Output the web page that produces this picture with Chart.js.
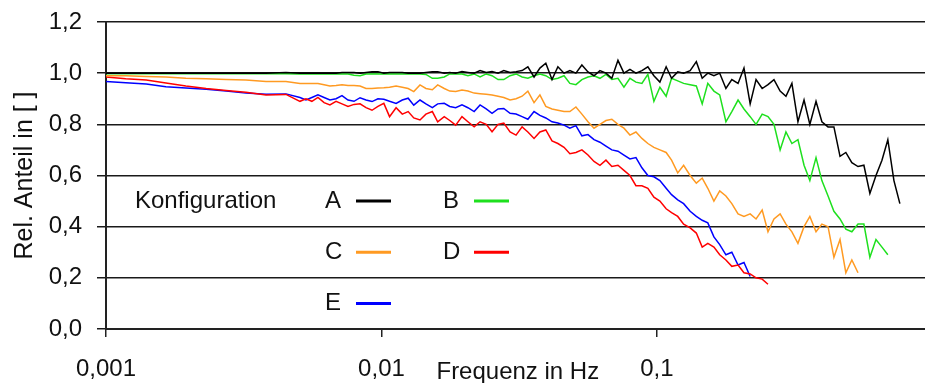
<!DOCTYPE html>
<html>
<head>
<meta charset="utf-8">
<script src="https://cdn.jsdelivr.net/npm/chart.js@4/dist/chart.umd.min.js"></script>
<style>
  html, body { margin: 0; padding: 0; background: #fff; }
  canvas { display: block; }
</style>
</head>
<body>
<canvas id="chart" width="925" height="383"></canvas>
<script>
// Frequency grid in Hz (shared by all five configurations)
const freq = [
  0.001, 0.00118, 0.0014, 0.00165, 0.00195, 0.00231, 0.00273, 0.00322, 0.00381, 0.0045,
  0.00506, 0.00532, 0.00559, 0.00588, 0.00619, 0.0065, 0.00684, 0.00719, 0.00756, 0.00795,
  0.00836, 0.00879, 0.00924, 0.00971, 0.0102, 0.0107, 0.0113, 0.0119, 0.0125, 0.0131,
  0.0138, 0.0145, 0.0153, 0.016, 0.0169, 0.0177, 0.0186, 0.0196, 0.0206, 0.0217,
  0.0228, 0.024, 0.0252, 0.0265, 0.0278, 0.0293, 0.0308, 0.0324, 0.034, 0.0358,
  0.0376, 0.0395, 0.0416, 0.0437, 0.046, 0.0483, 0.0508, 0.0534, 0.0562, 0.0591,
  0.0621, 0.0653, 0.0686, 0.0722, 0.0759, 0.0798, 0.0839, 0.0882, 0.0927, 0.0975,
  0.1025, 0.108, 0.113, 0.119, 0.125, 0.132, 0.139, 0.146, 0.153, 0.161,
  0.169, 0.178, 0.187, 0.197, 0.207, 0.218, 0.229, 0.241, 0.253, 0.266,
  0.28, 0.294, 0.309, 0.325, 0.342, 0.359, 0.378, 0.397, 0.418, 0.439,
  0.462, 0.485, 0.51, 0.537, 0.564, 0.593, 0.624, 0.656, 0.689, 0.725, 0.762
];

// Relative share per configuration
const confA = [
  1.0, 1.0, 1.0, 1.0, 1.0, 1.0, 1.0, 1.0, 1.0, 1.003,
  1.0, 1.0, 1.0, 1.0, 1.0, 1.0, 1.0, 1.003, 1.003, 1.003,
  1.0, 1.003, 1.006, 1.006, 1.0, 1.003, 1.003, 1.003, 1.0, 1.0,
  1.0, 1.003, 1.006, 1.006, 1.0, 1.003, 1.0, 1.006, 1.003, 1.0,
  1.01, 1.003, 1.006, 1.0, 1.01, 1.003, 1.006, 1.01, 1.025, 0.985,
  1.02, 1.039, 0.975, 1.025, 1.0, 1.01, 1.0, 1.032, 1.005, 0.99,
  1.01, 1.0, 0.98, 1.05, 1.0, 1.015, 1.0, 1.01, 1.025, 0.99,
  0.965, 1.025, 0.98, 1.005, 1.0, 1.01, 1.045, 0.98, 1.0, 0.99,
  1.0, 0.94, 0.975, 0.96, 1.02, 0.88, 0.975, 0.94, 0.955, 0.975,
  0.93, 0.91, 0.96, 0.81, 0.895, 0.8, 0.89, 0.81, 0.79, 0.79,
  0.675, 0.69, 0.65, 0.635, 0.64, 0.53, 0.6, 0.66, 0.74, 0.58, 0.49
];
const confB = [
  0.998, 0.998, 0.998, 0.998, 0.998, 0.998, 0.998, 0.998, 0.998, 0.998,
  0.997, 0.997, 0.997, 0.997, 0.997, 0.997, 0.997, 0.997, 0.997, 0.992,
  0.99, 0.997, 0.997, 0.997, 0.997, 0.997, 0.997, 0.997, 0.997, 0.997,
  0.997, 0.995, 0.98, 0.98, 0.985, 0.997, 0.997, 0.997, 0.99, 0.997,
  0.985, 0.997, 0.99, 0.975, 0.975, 0.99, 0.997, 0.985, 0.98, 0.99,
  0.997, 0.99, 0.975, 0.98, 0.99, 0.96, 0.955, 0.975, 0.985, 0.99,
  0.98, 0.995, 0.975, 0.98, 0.945, 0.98, 0.965, 0.96, 0.995, 0.89,
  0.945, 0.91, 0.98, 0.97, 0.96, 0.955, 0.95, 0.88, 0.96, 0.93,
  0.915, 0.81, 0.85, 0.895, 0.86, 0.83, 0.8, 0.84, 0.83, 0.8,
  0.7, 0.77, 0.725, 0.74, 0.64, 0.58, 0.67, 0.58, 0.52, 0.46,
  0.43, 0.39, 0.38, 0.41, 0.41, 0.28, 0.35, 0.32, 0.29
];
const confC = [
  0.99, 0.99, 0.987, 0.985, 0.98, 0.978, 0.975, 0.973, 0.967, 0.967,
  0.96, 0.96, 0.96, 0.96, 0.955, 0.95, 0.952, 0.955, 0.952, 0.952,
  0.95, 0.94, 0.94, 0.942, 0.943, 0.945, 0.95, 0.945, 0.94, 0.928,
  0.954, 0.94, 0.935, 0.954, 0.94, 0.93, 0.928, 0.934, 0.93, 0.922,
  0.92, 0.918, 0.915, 0.91, 0.905, 0.895, 0.9, 0.91, 0.93, 0.885,
  0.915, 0.87, 0.86, 0.855, 0.85, 0.85, 0.868, 0.84, 0.81, 0.785,
  0.8, 0.815, 0.82, 0.8, 0.785, 0.758, 0.77, 0.745, 0.725, 0.71,
  0.7, 0.69, 0.66, 0.61, 0.64, 0.6, 0.57, 0.59, 0.55, 0.5,
  0.54, 0.52, 0.49, 0.45, 0.44, 0.45, 0.43, 0.465, 0.38, 0.43,
  0.45, 0.41, 0.38, 0.335, 0.4, 0.44, 0.38, 0.41, 0.4, 0.28,
  0.35, 0.22, 0.27, 0.22
];
const confD = [
  0.985, 0.978, 0.973, 0.962, 0.95, 0.94, 0.932, 0.925, 0.915, 0.917,
  0.89, 0.9, 0.89, 0.905, 0.885, 0.876, 0.89, 0.88, 0.87, 0.878,
  0.88, 0.865, 0.855, 0.87, 0.882, 0.83, 0.865, 0.84, 0.85, 0.825,
  0.817, 0.84, 0.85, 0.81, 0.83, 0.815, 0.797, 0.83, 0.81, 0.79,
  0.81, 0.8, 0.771, 0.8, 0.805, 0.77, 0.758, 0.79, 0.77, 0.745,
  0.77, 0.778, 0.735, 0.725, 0.71, 0.685, 0.69, 0.7, 0.68, 0.655,
  0.64, 0.66, 0.635, 0.64, 0.62, 0.6, 0.56, 0.56, 0.55, 0.515,
  0.5, 0.47, 0.455, 0.44, 0.41, 0.395, 0.375, 0.32, 0.335, 0.32,
  0.29, 0.27, 0.245, 0.25, 0.22, 0.215, 0.2, 0.195, 0.175
];
const confE = [
  0.967, 0.963, 0.958, 0.947, 0.942, 0.937, 0.93, 0.922, 0.918, 0.919,
  0.905, 0.895, 0.905, 0.915, 0.905, 0.895, 0.9, 0.912, 0.895, 0.89,
  0.904, 0.895, 0.889, 0.9, 0.898, 0.89, 0.882, 0.895, 0.902, 0.875,
  0.895, 0.88, 0.865, 0.88, 0.882, 0.87, 0.865, 0.876, 0.865, 0.85,
  0.876, 0.86, 0.843, 0.86, 0.862, 0.843, 0.84, 0.83, 0.82, 0.85,
  0.835, 0.825, 0.81, 0.805, 0.797, 0.785, 0.795, 0.755, 0.76, 0.74,
  0.73, 0.715, 0.7, 0.695, 0.68, 0.665, 0.67, 0.63, 0.6, 0.595,
  0.58, 0.55, 0.525, 0.505, 0.49, 0.46, 0.44, 0.425, 0.415, 0.36,
  0.33, 0.29, 0.3, 0.25, 0.26, 0.205
];

const confNames  = ['A', 'B', 'C', 'D', 'E'];
const confColors = ['#000000', '#1ee01e', '#ff9a22', '#ff0000', '#0000ff'];
const xTickVals  = [0.001, 0.01, 0.1];

const FONT = '"Liberation Sans", Arial, sans-serif';
const comma = s => String(s).replace('.', ',');

// Legend grid + x caption drawn straight onto the canvas
const keyPlugin = {
  id: 'konfigKey',
  afterDraw(chart) {
    const { ctx, chartArea: a, scales: { x, y } } = chart;
    ctx.save();
    ctx.font = '24px ' + FONT;
    ctx.fillStyle = '#111';
    ctx.textAlign = 'left';
    ctx.textBaseline = 'middle';
    const rowY = [0.5, 0.3, 0.1].map(v => y.getPixelForValue(v));
    ctx.fillText('Konfiguration', a.left + 29, rowY[0]);
    chart.data.datasets.forEach((ds, i) => {
      const tx = a.left + 219 + (i % 2) * 118;
      const ty = rowY[Math.floor(i / 2)];
      ctx.fillStyle = '#111';
      ctx.fillText(ds.label, tx, ty);
      ctx.strokeStyle = ds.borderColor;
      ctx.lineWidth = 3;
      ctx.beginPath();
      ctx.moveTo(tx + 31, ty);
      ctx.lineTo(tx + 66, ty);
      ctx.stroke();
    });
    ctx.textBaseline = 'alphabetic';
    ctx.fillText('Frequenz in Hz', x.getPixelForValue(0.01) + 55, 379);
    ctx.restore();
  }
};

const series = [confA, confB, confC, confD, confE];

new Chart(document.getElementById('chart'), {
  type: 'line',
  data: {
    datasets: series.map((vals, i) => ({
      label: confNames[i],
      data: vals.map((v, k) => ({ x: freq[k], y: v })),
      borderColor: confColors[i],
      backgroundColor: confColors[i],
      borderWidth: 1.5,
      pointRadius: 0,
      tension: 0,
      fill: false
    }))
  },
  options: {
    responsive: false,
    animation: false,
    devicePixelRatio: 1,
    layout: { padding: { top: 22, right: 0, left: 0, bottom: 0 } },
    plugins: { legend: { display: false }, tooltip: { enabled: false } },
    scales: {
      x: {
        type: 'logarithmic',
        min: 0.001,
        max: 0.94,
        afterBuildTicks: s => { s.ticks = xTickVals.map(v => ({ value: v })); },
        afterFit: s => { s.height = 54; s.paddingLeft = 0; s.paddingRight = 0; },
        ticks: {
          autoSkip: false,
          maxRotation: 0,
          padding: 18,
          color: '#111',
          font: { family: FONT, size: 24 },
          callback: v => comma(v)
        },
        grid: { drawOnChartArea: false, drawTicks: true, tickLength: 8, color: '#222', lineWidth: 1.5 },
        border: { display: true, color: '#222', width: 2 }
      },
      y: {
        min: 0,
        max: 1.2,
        // fixed axis width; label overhang is absorbed by the layout padding
        afterFit: s => { s.width = 106; s.paddingTop = 0; s.paddingBottom = 0; },
        ticks: {
          stepSize: 0.2,
          padding: 15,
          color: '#111',
          font: { family: FONT, size: 24 },
          callback: v => comma(v.toFixed(1))
        },
        grid: { color: '#1a1a1a', lineWidth: 1.5, tickLength: 9 },
        border: { display: true, color: '#222', width: 2 },
        title: {
          display: true,
          text: 'Rel. Anteil in [ ]',
          color: '#111',
          font: { family: FONT, size: 25 },
          padding: { top: 10, bottom: 0 }
        }
      }
    }
  },
  plugins: [keyPlugin]
});
</script>
</body>
</html>
